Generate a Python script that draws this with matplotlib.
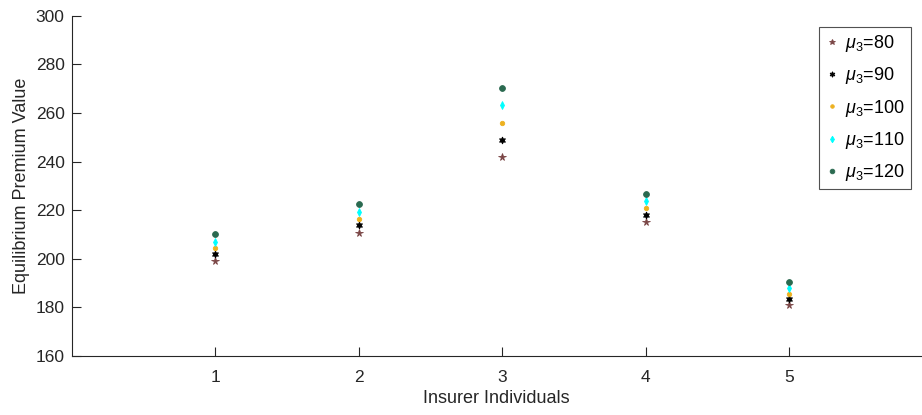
import matplotlib
matplotlib.use("Agg")
import matplotlib.pyplot as plt

plt.rcParams['font.family'] = ['Liberation Sans', 'DejaVu Sans']
plt.rcParams['mathtext.fontset'] = 'custom'
plt.rcParams['mathtext.rm'] = 'Liberation Sans'
plt.rcParams['mathtext.it'] = 'Liberation Sans:italic'

individuals = [1, 2, 3, 4, 5]
labels = ['$\\mu_3$=80', '$\\mu_3$=90', '$\\mu_3$=100', '$\\mu_3$=110', '$\\mu_3$=120']
premium_mu80 = [199.1, 210.8, 241.7, 215.0, 180.8]
premium_mu90 = [201.9, 213.8, 248.7, 218.1, 183.3]
premium_mu100 = [204.5, 216.5, 255.8, 220.8, 185.6]
premium_mu110 = [207.1, 219.4, 263.1, 223.8, 187.9]
premium_mu120 = [210.0, 222.4, 270.3, 226.8, 190.4]

series = [premium_mu80, premium_mu90, premium_mu100, premium_mu110, premium_mu120]
colors = ['#7a4545', '#000000', '#EDB120', '#00FFFF', '#2b6a50']
markers = ['*', (6, 1, 0), 'o', 'd', 'o']
sizes = [5.5, 5, 3.2, 4.2, 4.2]

fig = plt.figure(figsize=(9.22, 4.15), dpi=100)
ax = fig.add_axes([0.0776, 0.1422, 0.9214, 0.82])

for vals, lab, c, m, s in zip(series, labels, colors, markers, sizes):
    ax.plot(individuals, vals, linestyle='none', marker=m, color=c,
            markersize=s, markeredgewidth=0.6, label=lab)

ax.set_xlim(0, 5.92)
ax.set_ylim(160, 300)
ax.set_xticks(individuals)
ax.set_yticks(range(160, 301, 20))

axis_color = '#262626'
for side in ['top', 'right']:
    ax.spines[side].set_visible(False)
for side in ['left', 'bottom']:
    ax.spines[side].set_color(axis_color)
    ax.spines[side].set_linewidth(0.8)
ax.tick_params(direction='in', length=6.5, width=0.8, colors=axis_color,
               labelsize=12.5, labelcolor=axis_color)
ax.tick_params(axis='x', pad=10)
ax.tick_params(axis='y', pad=5)

ax.set_xlabel('Insurer Individuals', fontsize=13, color=axis_color, labelpad=4)
ax.set_ylabel('Equilibrium Premium Value', fontsize=13, color=axis_color, labelpad=4)

leg = ax.legend(loc='upper right', bbox_to_anchor=(0.9885, 0.967), fontsize=13,
                frameon=True, fancybox=False, edgecolor=axis_color,
                handlelength=0.7, handletextpad=0.4, borderpad=0.35,
                labelspacing=0.62, borderaxespad=0.0, markerscale=0.8)
leg.get_frame().set_linewidth(0.8)
for t in leg.get_texts():
    t.set_color('#000000')

fig.savefig('out.png', dpi=100)
